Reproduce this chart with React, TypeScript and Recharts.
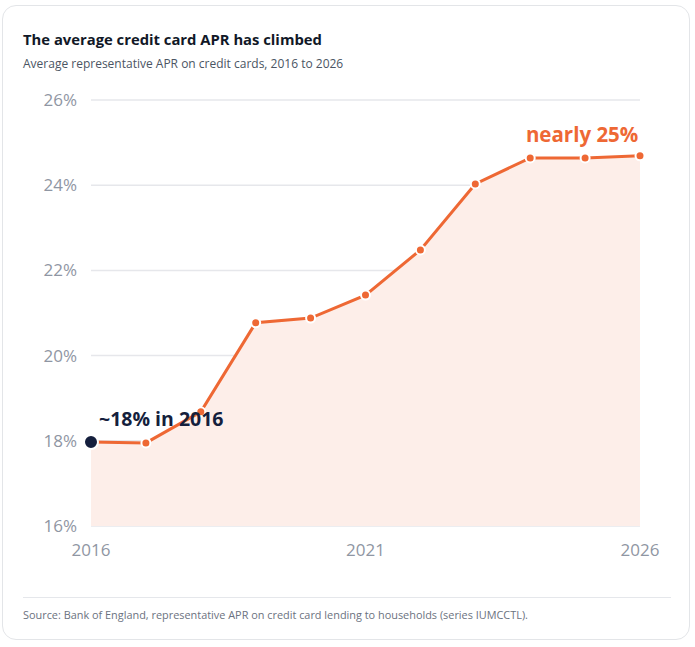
import React from "react";
import {
  ComposedChart,
  Area,
  Line,
  XAxis,
  YAxis,
  CartesianGrid,
} from "recharts";

// Average representative APR on credit cards, by year
const years = [2016, 2017, 2018, 2019, 2020, 2021, 2022, 2023, 2024, 2025, 2026];
const aprValues = [17.97, 17.95, 18.68, 20.77, 20.88, 21.42, 22.48, 24.03, 24.64, 24.64, 24.69];
const yTicks = [16, 18, 20, 22, 24, 26];
const xTicks = [2016, 2021, 2026];

const startLabel = "~18% in 2016";
const endLabel = "nearly 25%";

const data = years.map((year, i) => ({ year, apr: aprValues[i] }));

const ORANGE = "#ee6834";
const NAVY = "#151f3d";
const FONT = "'Open Sans', 'Noto Sans', sans-serif";

const renderDot = (props: any) => {
  const { cx, cy, index } = props;
  if (index === 0) {
    return (
      <circle key={`d${index}`} cx={cx} cy={cy} r={7} fill={NAVY} stroke="#fff" strokeWidth={2} />
    );
  }
  return (
    <circle key={`d${index}`} cx={cx} cy={cy} r={4.5} fill={ORANGE} stroke="#fff" strokeWidth={2} />
  );
};

const renderLabel = (props: any) => {
  const { x, y, index } = props;
  if (index === 0) {
    return (
      <text key="l0" x={x + 8} y={y - 16} fill={NAVY} fontSize={19.5} fontWeight={700} fontFamily={FONT}>
        {startLabel}
      </text>
    );
  }
  if (index === 9) {
    return (
      <text key="l9" x={x - 3} y={y - 16} fill={ORANGE} fontSize={20.5} fontWeight={700} textAnchor="middle" fontFamily={FONT}>
        {endLabel}
      </text>
    );
  }
  return null;
};

export default function App() {
  return (
    <div style={{ position: "absolute", left: 0, top: 0, width: 695, height: 647, fontFamily: FONT }}>
      <div
        style={{
          position: "absolute",
          left: 2,
          top: 5,
          width: 688,
          height: 635,
          border: "1px solid #e3e5e8",
          borderRadius: 14,
          background: "#fff",
          boxSizing: "border-box",
        }}
      />
      <div style={{ position: "absolute", left: 23, top: 29, fontSize: 14.8, fontWeight: 700, color: "#111827" }}>
        The average credit card APR has climbed
      </div>
      <div style={{ position: "absolute", left: 23, top: 55, fontSize: 12, color: "#4b5563" }}>
        Average representative APR on credit cards, 2016 to 2026
      </div>
      <div style={{ position: "absolute", left: 0, top: 0 }}>
        <ComposedChart
          width={695}
          height={580}
          data={data}
          margin={{ top: 100, right: 55, bottom: 0, left: 0 }}
        >
          <CartesianGrid horizontal vertical={false} stroke="#e6e7eb" strokeWidth={1.5} />
          <XAxis
            dataKey="year"
            type="number"
            domain={[2016, 2026]}
            ticks={xTicks}
            axisLine={false}
            tickLine={false}
            height={54}
            tickMargin={12}
            tick={{ fill: "#8f96a3", fontSize: 17, fontFamily: FONT }}
          />
          <YAxis
            domain={[16, 26]}
            ticks={yTicks}
            width={91}
            axisLine={false}
            tickLine={false}
            tickMargin={8}
            tickFormatter={(v: number) => `${v}%`}
            tick={{ fill: "#8f96a3", fontSize: 17, fontFamily: FONT }}
          />
          <Area
            dataKey="apr"
            type="linear"
            stroke="none"
            fill="#fdeee9"
            fillOpacity={1}
            baseValue={16}
            isAnimationActive={false}
          />
          <Line
            dataKey="apr"
            type="linear"
            stroke={ORANGE}
            strokeWidth={3}
            dot={renderDot}
            activeDot={false}
            label={renderLabel}
            isAnimationActive={false}
          />
        </ComposedChart>
      </div>
      <div style={{ position: "absolute", left: 23, top: 597, width: 648, borderTop: "1px solid #e5e7eb" }} />
      <div style={{ position: "absolute", left: 23, top: 607, fontSize: 10.9, color: "#6b7280" }}>
        Source: Bank of England, representative APR on credit card lending to households (series IUMCCTL).
      </div>
    </div>
  );
}
